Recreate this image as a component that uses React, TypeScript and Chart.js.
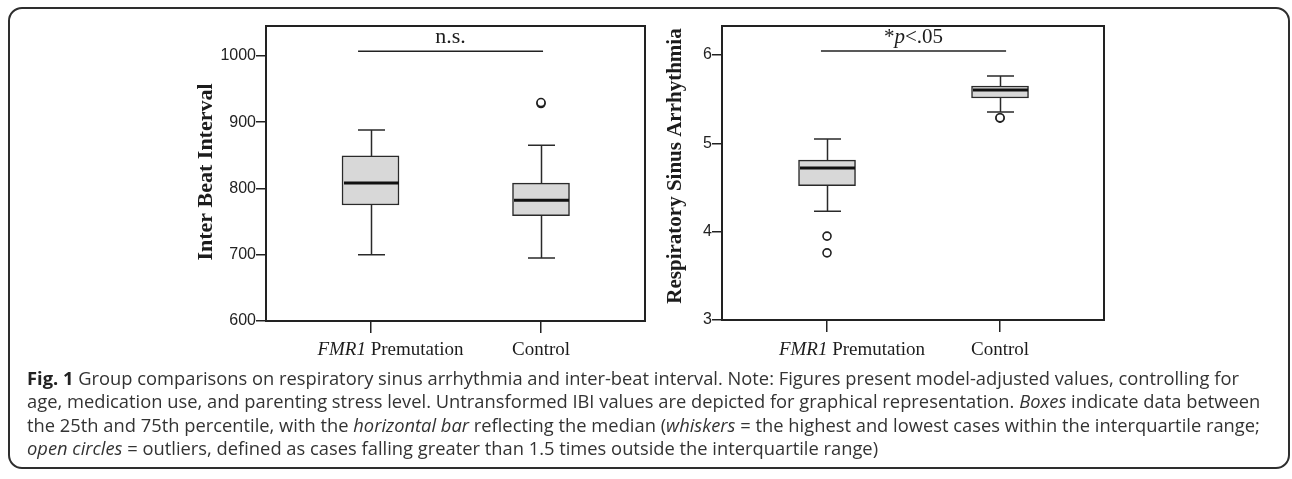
import React, { useEffect, useLayoutEffect, useRef } from 'react';
import { Chart, registerables } from 'chart.js';

Chart.register(...registerables);

// ---------- data ----------
const groupX = [1, 2];

// Inter beat interval (left panel)
const ibiTicks = [600, 700, 800, 900, 1000];
const ibiLow = [700, 695];
const ibiQ1 = [775, 759];
const ibiMedian = [808, 782];
const ibiQ3 = [849, 808];
const ibiHigh = [888, 865];
const ibiOutlierGroup = [2, 2];
const ibiOutlierValue = [928, 929.5];
const ibiSigLineX = [0.927, 2.012];
const ibiSigLineY = 1007;

// Respiratory sinus arrhythmia (right panel)
const rsaTicks = [3, 4, 5, 6];
const rsaLow = [4.23, 5.355];
const rsaQ1 = [4.52, 5.513];
const rsaMedian = [4.72, 5.604];
const rsaQ3 = [4.81, 5.649];
const rsaHigh = [5.05, 5.762];
const rsaOutlierGroup = [1, 1, 2, 2];
const rsaOutlierValue = [3.95, 3.76, 5.285, 5.29];
const rsaSigLineX = [0.965, 2.035];
const rsaSigLineY = 6.045;

type Part = { text: string; italic?: boolean };

type Spec = {
  canvasLeft: number;
  width: number;
  height: number;
  yAxisWidth: number;
  xAxisHeight: number;
  padTop: number;
  padRight: number;
  yMin: number;
  yMax: number;
  yTicks: number[];
  xMin: number;
  xMax: number;
  low: number[];
  q1: number[];
  median: number[];
  q3: number[];
  high: number[];
  outGroup: number[];
  outValue: number[];
  sigX: number[];
  sigY: number;
  sigParts: Part[];
  sigSize: number;
  sigBaseline: number;
  title: string;
  titleX: number;
  titleY: number;
  titleSize: number;
  labelShift: number;
};

const SERIF = '"Liberation Serif", "Times New Roman", serif';
const SANS = '"Liberation Sans", Arial, sans-serif';
const INK = '#1c1c1c';

const leftSpec: Spec = {
  canvasLeft: 180,
  width: 480,
  height: 372,
  yAxisWidth: 86,
  xAxisHeight: 51,
  padTop: 26,
  padRight: 15,
  yMin: 600,
  yMax: 1045,
  yTicks: ibiTicks,
  xMin: 0.387,
  xMax: 2.61,
  low: ibiLow,
  q1: ibiQ1,
  median: ibiMedian,
  q3: ibiQ3,
  high: ibiHigh,
  outGroup: ibiOutlierGroup,
  outValue: ibiOutlierValue,
  sigX: ibiSigLineX,
  sigY: ibiSigLineY,
  sigParts: [{ text: 'n.s.' }],
  sigSize: 22,
  sigBaseline: 43,
  title: 'Inter Beat Interval',
  titleX: 26,
  titleY: 172,
  titleSize: 22,
  labelShift: 20,
};

const rightSpec: Spec = {
  canvasLeft: 640,
  width: 480,
  height: 372,
  yAxisWidth: 82,
  xAxisHeight: 52,
  padTop: 26,
  padRight: 16,
  yMin: 3,
  yMax: 6.328,
  yTicks: rsaTicks,
  xMin: 0.393,
  xMax: 2.601,
  low: rsaLow,
  q1: rsaQ1,
  median: rsaMedian,
  q3: rsaQ3,
  high: rsaHigh,
  outGroup: rsaOutlierGroup,
  outValue: rsaOutlierValue,
  sigX: rsaSigLineX,
  sigY: rsaSigLineY,
  sigParts: [{ text: '*' }, { text: 'p', italic: true }, { text: '<.05' }],
  sigSize: 21,
  sigBaseline: 43,
  title: 'Respiratory Sinus Arrhythmia',
  titleX: 36,
  titleY: 166,
  titleSize: 21,
  labelShift: 25,
};

const BOX_WIDTH = 57;
const CAP_WIDTH = 27;

function drawParts(ctx: CanvasRenderingContext2D, parts: Part[], size: number, cx: number, baseline: number) {
  const fontFor = (p: Part) => `${p.italic ? 'italic ' : ''}${size}px ${SERIF}`;
  let total = 0;
  const widths = parts.map((p) => {
    ctx.font = fontFor(p);
    const w = ctx.measureText(p.text).width;
    total += w;
    return w;
  });
  let x = cx - total / 2;
  ctx.textAlign = 'left';
  ctx.textBaseline = 'alphabetic';
  parts.forEach((p, i) => {
    ctx.font = fontFor(p);
    ctx.fillText(p.text, x, baseline);
    x += widths[i];
  });
}

function BoxChart({ spec }: { spec: Spec }) {
  const ref = useRef<HTMLCanvasElement>(null);

  useEffect(() => {
    const canvas = ref.current;
    if (!canvas) return;

    const boxParts = {
      id: 'boxParts',
      afterDatasetsDraw(chart: any) {
        const { ctx } = chart;
        const x = chart.scales.x;
        const y = chart.scales.y;
        ctx.save();
        groupX.forEach((g, i) => {
          const px = Math.round(x.getPixelForValue(g)) + 0.5;
          const half = CAP_WIDTH / 2;
          const yHi = y.getPixelForValue(spec.high[i]);
          const yQ3 = y.getPixelForValue(spec.q3[i]);
          const yQ1 = y.getPixelForValue(spec.q1[i]);
          const yLo = y.getPixelForValue(spec.low[i]);
          ctx.strokeStyle = '#2a2a2a';
          ctx.lineWidth = 1.5;
          ctx.beginPath();
          ctx.moveTo(px, yQ3);
          ctx.lineTo(px, yHi);
          ctx.moveTo(px - half, yHi);
          ctx.lineTo(px + half, yHi);
          ctx.moveTo(px, yQ1);
          ctx.lineTo(px, yLo);
          ctx.moveTo(px - half, yLo);
          ctx.lineTo(px + half, yLo);
          ctx.stroke();
          const ym = y.getPixelForValue(spec.median[i]);
          ctx.strokeStyle = '#111';
          ctx.lineWidth = 3;
          ctx.beginPath();
          ctx.moveTo(px - BOX_WIDTH / 2 + 1, ym);
          ctx.lineTo(px + BOX_WIDTH / 2 - 1, ym);
          ctx.stroke();
        });
        ctx.restore();
      },
      afterDraw(chart: any) {
        const { ctx, chartArea } = chart;
        const x = chart.scales.x;
        ctx.save();
        // frame
        ctx.strokeStyle = '#222';
        ctx.lineWidth = 2;
        ctx.strokeRect(chartArea.left, chartArea.top, chartArea.right - chartArea.left, chartArea.bottom - chartArea.top);
        ctx.fillStyle = INK;
        // axis title
        ctx.save();
        ctx.translate(spec.titleX, spec.titleY);
        ctx.rotate(-Math.PI / 2);
        ctx.font = `bold ${spec.titleSize}px ${SERIF}`;
        ctx.textAlign = 'center';
        ctx.textBaseline = 'middle';
        ctx.fillText(spec.title, 0, 0);
        ctx.restore();
        // category labels
        const baseY = 355;
        const p1 = x.getPixelForValue(groupX[0]) + spec.labelShift;
        drawParts(ctx, [{ text: 'FMR1', italic: true }, { text: ' Premutation' }], 19, p1, baseY);
        const p2 = x.getPixelForValue(groupX[1]);
        drawParts(ctx, [{ text: 'Control' }], 19, p2, baseY);
        // significance label
        const sx = (x.getPixelForValue(spec.sigX[0]) + x.getPixelForValue(spec.sigX[1])) / 2;
        drawParts(ctx, spec.sigParts, spec.sigSize, sx, spec.sigBaseline);
        ctx.restore();
      },
    };

    const chart = new Chart(canvas, {
      type: 'bar',
      data: {
        datasets: [
          {
            type: 'scatter',
            data: spec.outGroup.map((g, i) => ({ x: g, y: spec.outValue[i] })),
            pointStyle: 'circle',
            pointRadius: 4,
            pointBorderWidth: 1.6,
            pointBorderColor: '#1f1f1f',
            pointBackgroundColor: '#ffffff',
            order: 0,
          } as any,
          {
            type: 'line',
            data: spec.sigX.map((v) => ({ x: v, y: spec.sigY })),
            borderColor: '#222',
            borderWidth: 1.6,
            pointRadius: 0,
            fill: false,
            order: 1,
          } as any,
          {
            type: 'bar',
            data: groupX.map((g, i) => ({ x: g, y: [spec.q1[i], spec.q3[i]] })),
            backgroundColor: '#d8d8d8',
            borderColor: '#2a2a2a',
            borderWidth: 1.5,
            borderSkipped: false,
            barThickness: BOX_WIDTH,
            order: 2,
          } as any,
        ],
      },
      options: {
        animation: false,
        responsive: false,
        maintainAspectRatio: false,
        events: [],
        layout: { padding: { top: spec.padTop, right: spec.padRight, left: 0, bottom: 0 } },
        plugins: { legend: { display: false }, tooltip: { enabled: false }, title: { display: false } },
        scales: {
          x: {
            type: 'linear',
            min: spec.xMin,
            max: spec.xMax,
            offset: false,
            afterBuildTicks: (s: any) => {
              s.ticks = groupX.map((v) => ({ value: v }));
            },
            afterFit: (s: any) => {
              s.height = spec.xAxisHeight;
            },
            ticks: { display: false },
            grid: {
              offset: false,
              drawOnChartArea: false,
              drawTicks: true,
              tickLength: 12,
              color: '#222',
              lineWidth: 1.5,
            },
            border: { display: true, color: '#222', width: 2 },
          },
          y: {
            type: 'linear',
            min: spec.yMin,
            max: spec.yMax,
            beginAtZero: false,
            afterBuildTicks: (s: any) => {
              s.ticks = spec.yTicks.map((v) => ({ value: v }));
            },
            afterFit: (s: any) => {
              s.width = spec.yAxisWidth;
            },
            ticks: {
              padding: 0,
              color: '#222',
              font: { family: SANS, size: 16 },
              callback: (v: any) => String(v),
            },
            grid: {
              drawOnChartArea: false,
              drawTicks: true,
              tickLength: 10,
              color: '#222',
              lineWidth: 1.5,
            },
            border: { display: true, color: '#222', width: 2 },
          },
        },
      } as any,
      plugins: [boxParts],
    });

    return () => chart.destroy();
  }, [spec]);

  return (
    <canvas
      ref={ref}
      width={spec.width}
      height={spec.height}
      style={{ position: 'absolute', left: spec.canvasLeft, top: 0, width: spec.width, height: spec.height }}
    />
  );
}

const CAPTION_FONT = '"Open Sans", "Noto Sans", sans-serif';

export default function App() {
  const capRef = useRef<HTMLDivElement>(null);
  const line1Ref = useRef<HTMLSpanElement>(null);

  useLayoutEffect(() => {
    const cap = capRef.current;
    const l1 = line1Ref.current;
    if (!cap || !l1) return;
    const w = l1.getBoundingClientRect().width;
    if (w > 0) {
      const k = 1212 / w;
      cap.style.transform = `scaleX(${k})`;
    }
  }, []);

  const lineStyle: React.CSSProperties = { whiteSpace: 'nowrap', height: 23.4 };

  return (
    <div style={{ position: 'fixed', inset: 0, background: '#fff', overflow: 'hidden' }}>
      <div
        style={{
          position: 'absolute',
          left: 8,
          top: 7,
          width: 1282,
          height: 462,
          border: '2px solid #2e2e2e',
          borderRadius: 14,
          boxSizing: 'border-box',
        }}
      />
      <BoxChart spec={leftSpec} />
      <BoxChart spec={rightSpec} />
      <div
        ref={capRef}
        style={{
          position: 'absolute',
          left: 27,
          top: 367,
          fontFamily: CAPTION_FONT,
          fontSize: 17.5,
          lineHeight: '23.4px',
          color: '#333',
          transformOrigin: 'left top',
        }}
      >
        <div style={lineStyle}>
          <span ref={line1Ref}>
            <b style={{ color: '#222' }}>Fig. 1</b> Group comparisons on respiratory sinus arrhythmia and inter-beat
            interval. Note: Figures present model-adjusted values, controlling for
          </span>
        </div>
        <div style={lineStyle}>
          age, medication use, and parenting stress level. Untransformed IBI values are depicted for graphical
          representation. <i>Boxes</i> indicate data between
        </div>
        <div style={lineStyle}>
          the 25th and 75th percentile, with the <i>horizontal bar</i> reflecting the median (<i>whiskers</i> = the
          highest and lowest cases within the interquartile range;
        </div>
        <div style={lineStyle}>
          <i>open circles</i> = outliers, defined as cases falling greater than 1.5 times outside the interquartile
          range)
        </div>
      </div>
    </div>
  );
}
